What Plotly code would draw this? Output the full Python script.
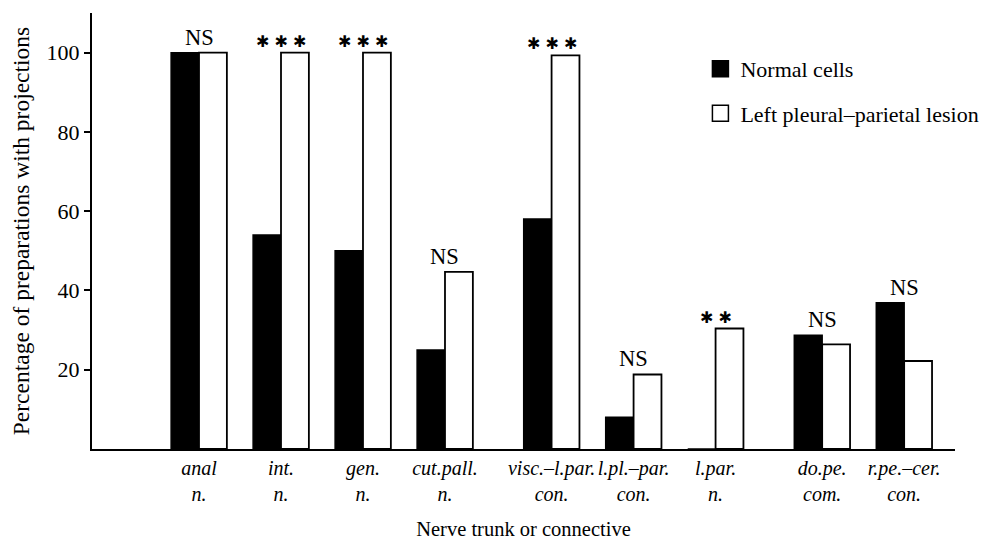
import plotly.graph_objects as go

# ---- data ----
categories = ["anal<br>n.", "int.<br>n.", "gen.<br>n.", "cut.pall.<br>n.",
              "visc.–l.par.<br>con.", "l.pl.–par.<br>con.", "l.par.<br>n.",
              "do.pe.<br>com.", "r.pe.–cer.<br>con."]
positions = [0, 1, 2, 3, 4.3, 5.3, 6.3, 7.6, 8.6]
normal_cells = [100, 54, 50, 25, 58, 8, 0, 28.7, 36.9]
lesion = [100, 100, 100, 44.7, 99.3, 18.8, 30.4, 26.4, 22.2]
significance = ["NS", "***", "***", "NS", "***", "NS", "**", "NS", "NS"]
series_names = ["Normal cells", "Left pleural–parietal lesion"]

FONT = "Liberation Serif, serif"

fig = go.Figure()
fig.add_trace(go.Bar(
    x=positions, y=normal_cells, name=series_names[0], showlegend=False,
    marker=dict(color="black", line=dict(color="black", width=1.5)),
))
fig.add_trace(go.Bar(
    x=positions, y=lesion, name=series_names[1], showlegend=False,
    marker=dict(color="white", line=dict(color="black", width=1.8)),
))
# legend entries (square swatches like the original key)
for nm, col, grp in zip(series_names, ["black", "white"], ["a", "b"]):
    fig.add_trace(go.Scatter(
        x=[None], y=[None], mode="markers", name=nm, legendgroup=grp,
        marker=dict(symbol="square", size=19, color=col,
                    line=dict(color="black", width=1.5)),
    ))

for xp, a, b, s in zip(positions, normal_cells, lesion, significance):
    top = max(a, b)
    if s == "NS":
        fig.add_annotation(x=xp, y=top, text=s, showarrow=False, yanchor="bottom",
                           yshift=1, font=dict(family=FONT, size=22.5, color="black"))
    else:
        fig.add_annotation(x=xp, y=top, text=" ".join(["✱"] * len(s)), showarrow=False,
                           yanchor="bottom", yshift=0,
                           font=dict(family="DejaVu Sans", size=16, color="black"))

# the page body adds an 8px offset, so the figure is sized to fit the window
fig.update_layout(
    width=993, height=534,
    margin=dict(l=84, r=46, t=5, b=93, autoexpand=False),
    paper_bgcolor="white", plot_bgcolor="white",
    barmode="group", bargap=0.32, bargroupgap=0,
    font=dict(family=FONT, size=21, color="black"),
    showlegend=True,
    legend=dict(x=0.705, y=0.92, xanchor="left", yanchor="top",
                font=dict(family=FONT, size=22, color="black"), tracegroupgap=13,
                bgcolor="rgba(0,0,0,0)", itemsizing="trace"),
    xaxis=dict(
        range=[-1.305, 9.22], tickmode="array", tickvals=positions,
        ticktext=categories, showline=True, linecolor="black", linewidth=2,
        ticks="", showgrid=False, zeroline=False, automargin=False,
        tickangle=0,
        tickfont=dict(family=FONT, size=20, style="italic"),
        title=dict(text="Nerve trunk or connective", standoff=18,
                   font=dict(family=FONT, size=20.5)),
    ),
    yaxis=dict(
        range=[0, 110], tickmode="array", tickvals=[20, 40, 60, 80, 100],
        showline=True, linecolor="black", linewidth=2, ticks="outside",
        ticklen=6, tickwidth=1.5, tickcolor="black", showgrid=False,
        zeroline=False, automargin=False, tickfont=dict(family=FONT, size=22),
        title=dict(text="Percentage of preparations with projections",
                   standoff=10, font=dict(family=FONT, size=23.5)),
    ),
)

fig.write_html("out.html")
